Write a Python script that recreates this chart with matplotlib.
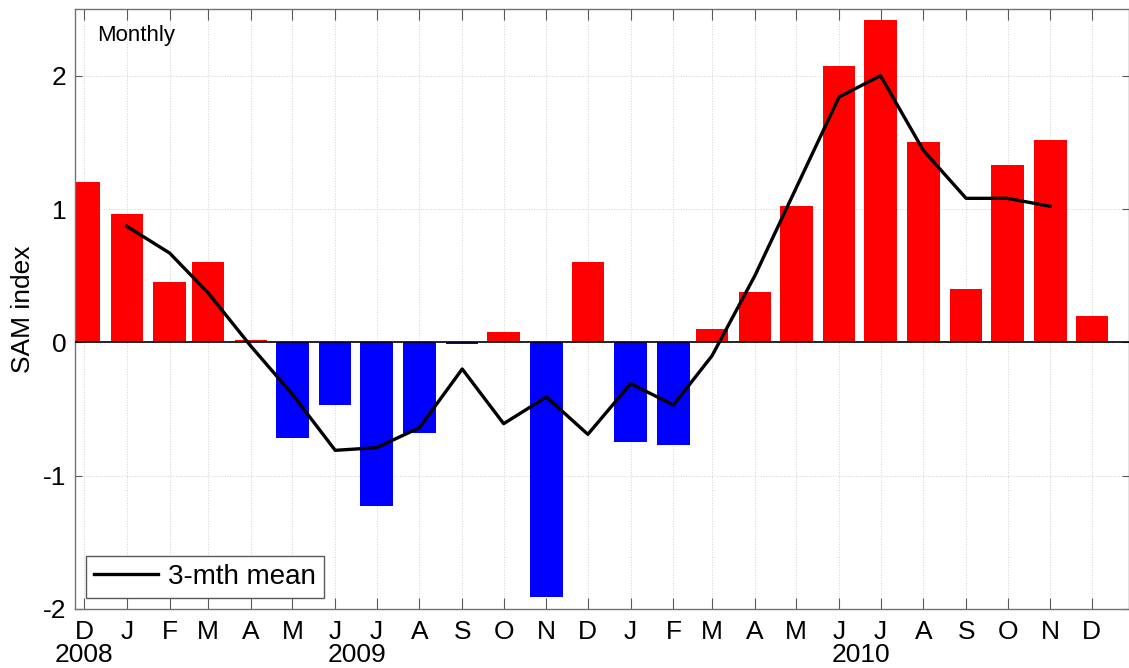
import datetime as dt
import matplotlib
matplotlib.use("Agg")
import matplotlib.pyplot as plt
import matplotlib.transforms as mtransforms

plt.rcParams['font.family'] = ['Liberation Sans', 'DejaVu Sans']

# monthly SAM index, Dec 2008 .. Dec 2010
months = [dt.datetime(2008, 12, 15)] + \
    [dt.datetime(y, m, 15) for y in (2009, 2010) for m in range(1, 13)]
month_labels = ['D', 'J', 'F', 'M', 'A', 'M', 'J', 'J', 'A', 'S', 'O', 'N', 'D',
                'J', 'F', 'M', 'A', 'M', 'J', 'J', 'A', 'S', 'O', 'N', 'D']
sam = [1.20, 0.96, 0.45, 0.60, 0.02, -0.72, -0.47, -1.23, -0.68, -0.01, 0.08, -1.91,
       0.60, -0.75, -0.77, 0.10, 0.38, 1.02, 2.07, 2.42, 1.50, 0.40, 1.33, 1.52, 0.20]

# 3-month running mean (Jan 2009 .. Nov 2010)
mean3 = [0.87, 0.67, 0.37, -0.03, -0.39, -0.81, -0.79, -0.64, -0.20, -0.61, -0.41,
         -0.69, -0.31, -0.47, -0.10, 0.50, 1.16, 1.84, 2.00, 1.44, 1.08, 1.08, 1.02]

years = ['2008', '2009', '2010']
year_pos = [dt.datetime(2008, 12, 15), dt.datetime(2009, 7, 1), dt.datetime(2010, 7, 1)]

fig = plt.figure(figsize=(11.29, 6.68), dpi=100)
ax = fig.add_axes([75 / 1129, 59 / 668, 1054 / 1129, 600 / 668])

colors = ['red' if v >= 0 else 'blue' for v in sam]
ax.bar(months, sam, width=23.5, color=colors, edgecolor='none', zorder=2)
ax.axhline(0, color='black', lw=1.2, zorder=3)
ax.plot(months[1:-1], mean3, color='black', lw=2.4, label='3-mth mean', zorder=4)

ax.set_xlim(dt.datetime(2008, 12, 8, 12), dt.datetime(2011, 1, 11))
ax.set_ylim(-2, 2.5)
ax.set_yticks([-2, -1, 0, 1, 2])
ax.set_yticklabels(['-2', '-1', '0', '1', '2'])
ax.set_xticks(months)
ax.set_xticklabels(month_labels)

ax.tick_params(axis='both', direction='in', labelsize=19, color='0.35',
               top=True, right=True)
ax.tick_params(axis='x', length=8, pad=8)
ax.tick_params(axis='y', length=5, pad=6)
for s in ax.spines.values():
    s.set_color('0.45')
    s.set_linewidth(1.0)

ax.grid(True, linestyle=':', color='0.82', lw=0.7, zorder=0)
ax.set_axisbelow(True)

ax.set_ylabel('SAM index', fontsize=19, labelpad=6)

# year labels under the month letters
trans = mtransforms.blended_transform_factory(ax.transData, ax.transAxes)
for yr, xp in zip(years, year_pos):
    ax.text(xp, -0.057, yr, transform=trans, ha='center', va='top', fontsize=19)

ax.text(0.021, 0.955, 'Monthly', transform=ax.transAxes, fontsize=16,
        ha='left', va='center')

leg = ax.legend(loc='lower left', bbox_to_anchor=(0.0105, 0.018), fontsize=20,
                handlelength=2.3, handletextpad=0.35, borderpad=0.3,
                fancybox=False, framealpha=1, borderaxespad=0)
leg.get_frame().set_edgecolor('0.35')
leg.get_frame().set_linewidth(1.0)

fig.savefig('out.png', dpi=100)
